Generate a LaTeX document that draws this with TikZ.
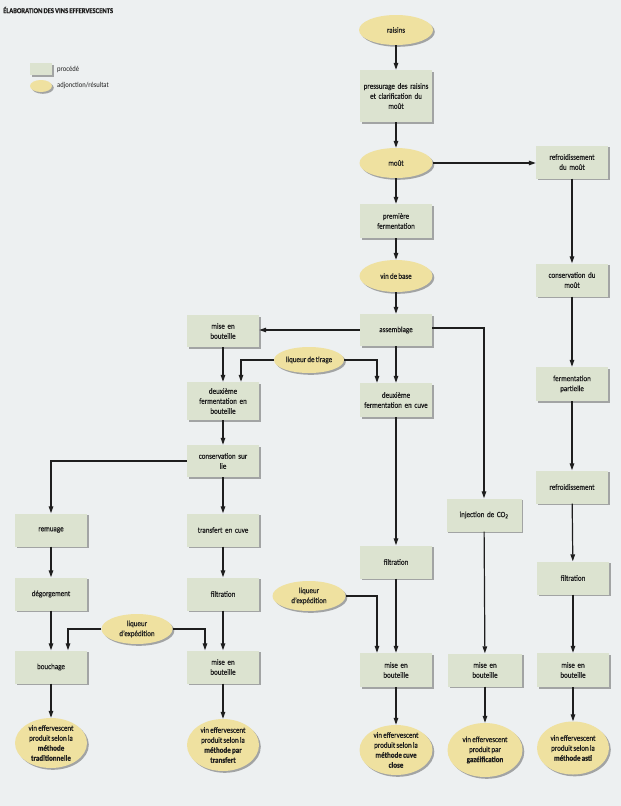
\documentclass[tikz,border=0pt]{standalone}
\usepackage{fontspec}
\setmainfont{Carlito}[FakeStretch=0.88,WordSpace=0.75,FakeBold=0.6]
\newfontfamily\legfont{Carlito}[FakeStretch=0.88,WordSpace=0.75]
\usetikzlibrary{shapes.geometric,arrows.meta,shadows}
\definecolor{bg}{HTML}{EDF0F1}
\definecolor{boxc}{HTML}{DCE3D0}
\definecolor{ellc}{HTML}{EFE1A0}
\definecolor{ink}{HTML}{1E1E1E}
\begin{document}
\begin{tikzpicture}[x=1pt,y=-1pt,
  shad/.style={drop shadow={shadow xshift=1.8pt,shadow yshift=-1.8pt,fill=black!60,opacity=0.55}},
  proc/.style={rectangle,fill=boxc,shad,minimum width=72pt,minimum height=33pt,
    text width=68pt,align=center,inner sep=1pt,text=ink,font=\fontsize{8}{10}\selectfont},
  adj/.style={ellipse,fill=ellc,shad,minimum width=73pt,minimum height=30pt,
    inner xsep=-3pt,inner ysep=-1pt,align=center,text=ink,font=\fontsize{8}{10}\selectfont},
  arr/.style={draw=ink,line width=1.2pt,-{Triangle[length=7pt,width=4.5pt]}},
  legtxt/.style={anchor=west,inner sep=0pt,text=ink,font=\legfont\fontsize{7.5}{9}\selectfont}]
\useasboundingbox (0,0) rectangle (621,806);
\fill[bg] (0,0) rectangle (621,806);

% title and legend
\node[anchor=west,inner sep=0pt,text=ink,font=\fontsize{7.5}{9}\selectfont\bfseries] (title) at (3,10) {ÉLABORATION DES VINS EFFERVESCENTS};
\node[rectangle,fill=boxc,shad,minimum width=22pt,minimum height=12pt,inner sep=0pt] (legp) at (41,69) {};
\node[legtxt] (legpt) at (57,69) {procédé};
\node[ellipse,fill=ellc,shad,minimum width=22pt,minimum height=12pt,inner sep=0pt] (lega) at (41,86) {};
\node[legtxt] (legat) at (57,86) {adjonction/résultat};

% central column
\node[adj,minimum width=74pt] (raisins) at (396,30) {raisins};
\node[proc,minimum height=52pt] (press) at (396,96) {pressurage des raisins\\et clarification du\\moût};
\node[adj] (mout) at (396,163) {moût};
\node[proc,minimum height=34pt] (prem) at (396,221) {première\\fermentation};
\node[adj,minimum height=32pt] (vdb) at (396,276) {vin de base};
\node[proc,minimum height=32pt] (assem) at (396,330) {assemblage};
\node[proc,minimum height=34pt] (dfc) at (396,400) {deuxième\\fermentation en cuve};
\node[proc] (fil2) at (396,562) {filtration};
\node[adj] (le2) at (309,596) {liqueur\\d’expédition};
\node[proc,minimum height=34pt] (meb3) at (396,670) {mise en\\bouteille};
\node[adj,minimum height=50pt] (r3) at (396,750) {vin effervescent\\produit selon la\\\textbf{méthode cuve}\\\textbf{close}};

% left part
\node[proc,minimum height=32pt] (mebl) at (223,331) {mise en\\bouteille};
\node[adj,minimum width=70pt,minimum height=26pt] (lt) at (309,360) {liqueur de tirage};
\node[proc,minimum height=38pt] (dfb) at (223,401) {deuxième\\fermentation en\\bouteille};
\node[proc,minimum height=32pt] (csl) at (223,461) {conservation sur\\lie};
\node[proc] (rem) at (51,530) {remuage};
\node[proc] (tec) at (223,530) {transfert en cuve};
\node[proc] (deg) at (51,594) {dégorgement};
\node[proc] (fil1) at (223,594) {filtration};
\node[adj,minimum width=71pt] (le1) at (137,629) {liqueur\\d’expédition};
\node[proc] (bou) at (51,667) {bouchage};
\node[proc] (meb2) at (223,667) {mise en\\bouteille};
\node[adj,minimum width=72pt,minimum height=50pt] (r1) at (51,743) {vin effervescent\\produit selon la\\\textbf{méthode}\\\textbf{traditionnelle}};
\node[adj,minimum width=72pt,minimum height=52pt] (r2) at (223,745) {vin effervescent\\produit selon la\\\textbf{méthode par}\\\textbf{transfert}};

% gazeification column
\node[proc,minimum width=75pt] (inj) at (484,515) {injection de CO\textsubscript{2}};
\node[proc,minimum width=74pt] (meb4) at (485,670) {mise en\\bouteille};
\node[adj,minimum width=75pt,minimum height=54pt] (r4) at (485,750) {vin effervescent\\produit par\\\textbf{gazéification}};

% right column
\node[proc] (refm) at (572,162) {refroidissement\\du moût};
\node[proc] (cdm) at (572,280) {conservation du\\moût};
\node[proc,minimum height=34pt] (fp) at (572,384) {fermentation\\partielle};
\node[proc] (refr) at (572,487) {refroidissement};
\node[proc] (fil3) at (573,578) {filtration};
\node[proc,minimum height=34pt] (meb5) at (573,670) {mise en\\bouteille};
\node[adj,minimum width=72pt,minimum height=53pt] (r5) at (573,748) {vin effervescent\\produit selon la\\\textbf{méthode asti}};

% connectors: central
\draw[arr] (raisins) -- (press);
\draw[arr] (press) -- (mout);
\draw[arr] (mout) -- (prem);
\draw[arr] (mout.east) -- (refm.west |- mout.east);
\draw[arr] (prem) -- (vdb);
\draw[arr] (vdb) -- (assem);
\draw[arr] (assem.west) -- (mebl.east |- assem.west);
\draw[arr] (assem) -- (dfc);
\draw[arr] ([yshift=2pt]assem.east) -| (inj.north);
\draw[arr] (dfc) -- (fil2);
\draw[arr] (fil2) -- (meb3);
\draw[arr] (le2.east) -| ([xshift=-19pt]meb3.north);
\draw[arr] (meb3) -- (r3);

% connectors: left
\draw[arr] (mebl) -- (dfb);
\draw[arr] (lt.west) -| ([xshift=18pt]dfb.north);
\draw[arr] (lt.east) -| ([xshift=-19pt]dfc.north);
\draw[arr] (dfb) -- (csl);
\draw[arr] (csl.west) -| (rem.north);
\draw[arr] (csl) -- (tec);
\draw[arr] (rem) -- (deg);
\draw[arr] (deg) -- (bou);
\draw[arr] (tec) -- (fil1);
\draw[arr] (fil1) -- (meb2);
\draw[arr] (le1.west) -| ([xshift=17pt]bou.north);
\draw[arr] (le1.east) -| ([xshift=-18pt]meb2.north);
\draw[arr] (bou) -- (r1);
\draw[arr] (meb2) -- (r2);

% connectors: gazeification
\draw[arr] (inj) -- (meb4);
\draw[arr] (meb4) -- (r4);

% connectors: right
\draw[arr] (refm) -- (cdm);
\draw[arr] (cdm) -- (fp);
\draw[arr] (fp) -- (refr);
\draw[arr] (refr) -- (fil3);
\draw[arr] (fil3) -- (meb5);
\draw[arr] (meb5) -- (r5);
\end{tikzpicture}
\end{document}
